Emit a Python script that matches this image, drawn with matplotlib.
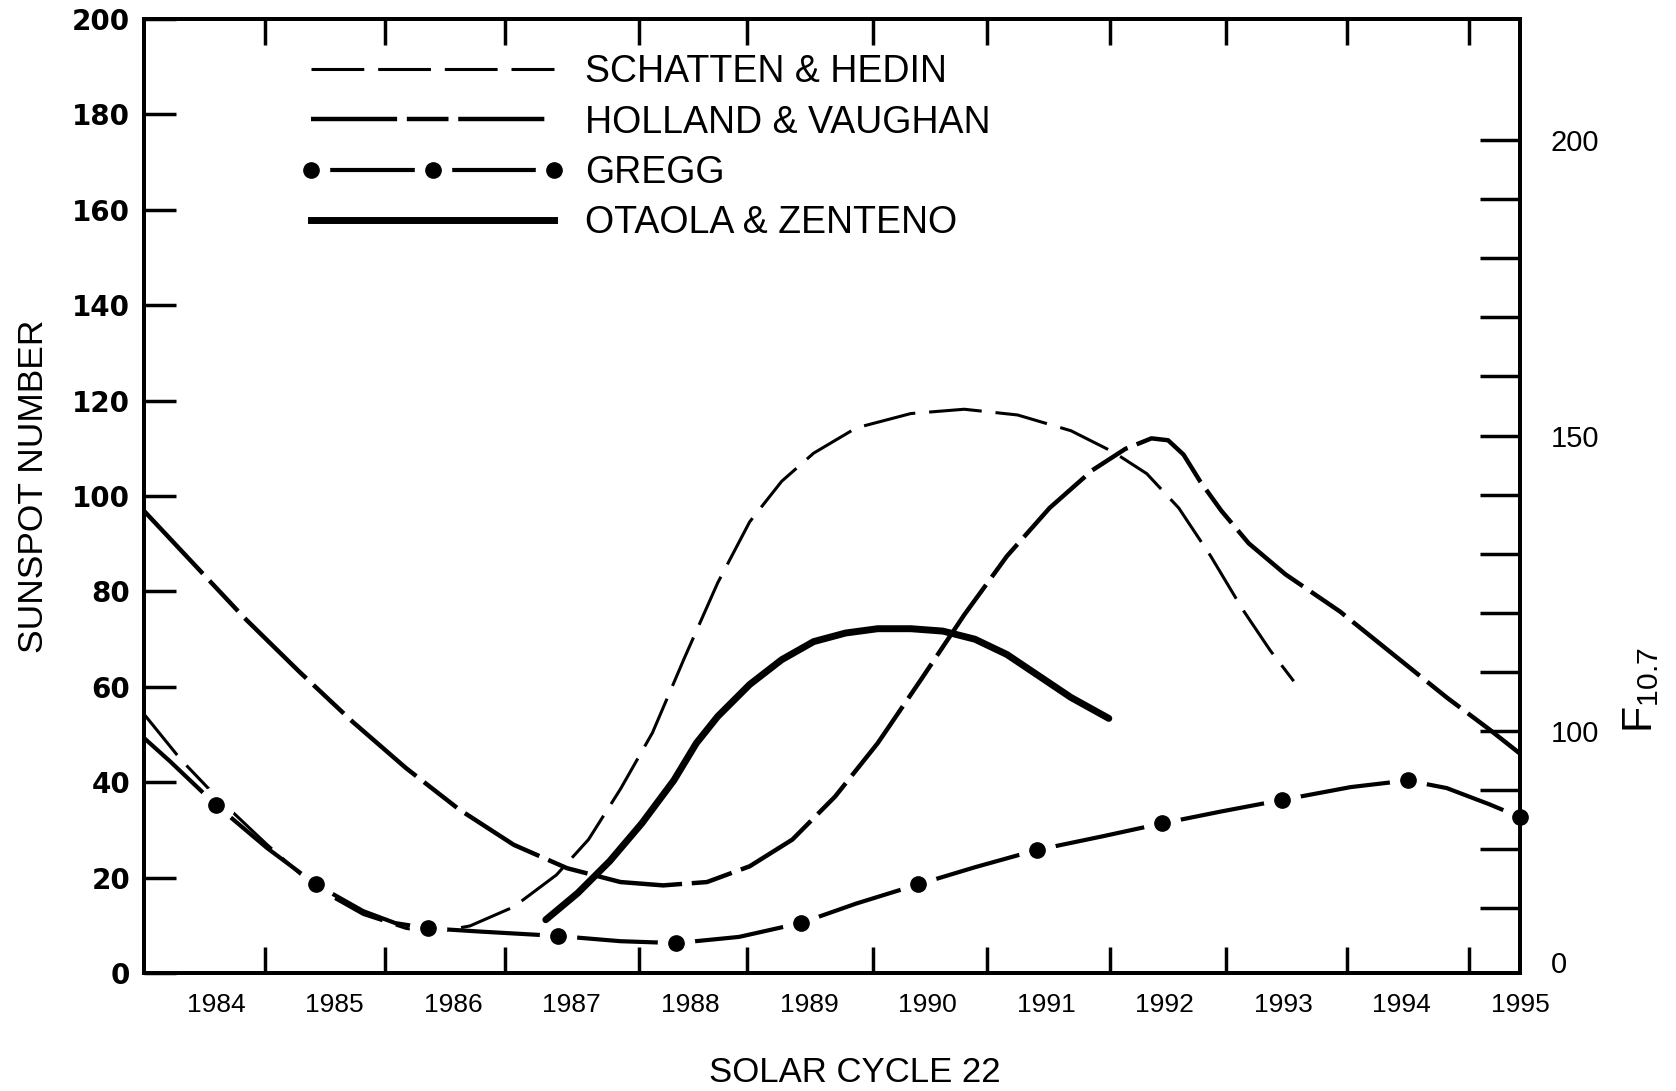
import matplotlib
matplotlib.use("Agg")
from matplotlib import pyplot as plt
from matplotlib.lines import Line2D
from matplotlib.legend_handler import HandlerTuple

plt.rcParams['lines.scale_dashes'] = False
plt.rcParams['font.family'] = ['Liberation Sans', 'DejaVu Sans']
plt.rcParams['mathtext.default'] = 'regular'

# Schatten & Hedin prediction (sunspot number)
sh_year = [1983.39, 1983.70, 1984.00, 1984.43, 1984.84, 1985.24, 1985.60, 1985.83, 1986.14,
           1986.51, 1986.87, 1987.14, 1987.41, 1987.68, 1987.95, 1988.23, 1988.50, 1988.77,
           1989.04, 1989.40, 1989.86, 1990.31, 1990.76, 1991.21, 1991.57, 1991.85, 1992.12,
           1992.39, 1992.66, 1992.89, 1993.09]
sh_ssn = [54.3, 44.8, 37.0, 26.9, 17.9, 12.3, 9.4, 8.5, 9.9,
          13.9, 20.6, 28.0, 38.6, 50.4, 66.1, 81.8, 94.6, 103.1,
          109.0, 114.3, 117.3, 118.2, 117.0, 113.7, 109.2, 104.7, 97.5,
          87.4, 76.2, 67.7, 61.2]

# Holland & Vaughan
hv_year = [1983.39, 1983.79, 1984.24, 1984.70, 1985.15, 1985.60, 1986.05, 1986.51, 1986.96,
           1987.41, 1987.77, 1988.14, 1988.50, 1988.86, 1989.22, 1989.58, 1989.95, 1990.31,
           1990.67, 1991.03, 1991.39, 1991.67, 1991.89, 1992.03, 1992.16, 1992.30, 1992.48,
           1992.71, 1993.02, 1993.48, 1993.93, 1994.38, 1994.74, 1995.00]
hv_ssn = [96.9, 86.3, 74.4, 63.2, 52.7, 43.0, 34.3, 26.9, 22.0,
          19.1, 18.4, 19.1, 22.4, 28.0, 37.0, 48.2, 61.7, 75.1,
          87.4, 97.5, 105.4, 109.9, 112.1, 111.7, 108.7, 103.1, 96.9,
          90.1, 83.6, 75.8, 66.8, 57.8, 51.1, 46.0]

# Gregg (line and the yearly points)
gr_year = [1983.39, 1983.61, 1984.00, 1984.43, 1984.84, 1985.24, 1985.51, 1985.79, 1986.24,
           1986.88, 1987.41, 1987.88, 1988.41, 1988.93, 1989.40, 1989.92, 1990.40, 1990.92,
           1991.48, 1991.98, 1992.48, 1992.99, 1993.57, 1994.05, 1994.38, 1994.74, 1995.00]
gr_ssn = [49.3, 44.4, 35.2, 26.2, 18.6, 13.0, 10.5, 9.4, 8.7,
          7.8, 6.7, 6.3, 7.6, 10.5, 14.6, 18.6, 22.2, 25.8,
          28.7, 31.4, 33.9, 36.3, 39.0, 40.4, 38.8, 35.4, 32.7]
gr_dot_year = [1984.00, 1984.84, 1985.79, 1986.88, 1987.88, 1988.93, 1989.92, 1990.92,
               1991.98, 1992.99, 1994.05, 1995.00]
gr_dot_ssn = [35.2, 18.6, 9.4, 7.8, 6.3, 10.5, 18.6, 25.8, 31.4, 36.3, 40.4, 32.7]

# Otaola & Zenteno
oz_year = [1986.78, 1987.05, 1987.32, 1987.59, 1987.86, 1988.05, 1988.23, 1988.50, 1988.77,
           1989.04, 1989.31, 1989.58, 1989.86, 1990.13, 1990.40, 1990.67, 1990.94, 1991.21,
           1991.53]
oz_ssn = [11.2, 16.8, 23.5, 31.4, 40.4, 48.2, 53.8, 60.5, 65.7,
          69.5, 71.3, 72.2, 72.2, 71.7, 70.0, 66.8, 62.3, 57.8,
          53.4]

labels = ['SCHATTEN & HEDIN', 'HOLLAND & VAUGHAN', 'GREGG', 'OTAOLA & ZENTENO']
year_labels = list(range(1984, 1996))
year_ticks = [1984.41, 1985.42, 1986.44, 1987.57, 1988.48, 1989.54, 1990.50, 1991.54,
              1992.52, 1993.54, 1994.57]
ssn_ticks = list(range(0, 201, 20))
f107_major = [100, 150, 200]
f107_minor = [70, 80, 90, 110, 120, 130, 140, 160, 170, 180, 190]

sh_style = (0, (38, 10))
hv_style = (0, (62, 7, 30, 7))

fig = plt.figure(figsize=(16.76, 10.91), dpi=100)
ax = fig.add_axes([0.0859, 0.108, 0.8211, 0.8746])

ax.plot(sh_year, sh_ssn, color='k', lw=2.2, ls=sh_style, zorder=2)
ax.plot(hv_year, hv_ssn, color='k', lw=3.2, ls=hv_style, zorder=2)
ax.plot(gr_year, gr_ssn, color='k', lw=3.0, zorder=3)
ax.plot(gr_dot_year, gr_dot_ssn, ls='none', marker='o', ms=26, mfc='w', mec='w', zorder=4)
ax.plot(gr_dot_year, gr_dot_ssn, ls='none', marker='o', ms=11, mfc='k', mec='k', zorder=5,
        clip_on=False)
ax.plot(oz_year, oz_ssn, color='k', lw=5, solid_capstyle='round', zorder=6)

ax.set_xlim(1983.39, 1995.0)
ax.set_ylim(0, 200)

ax.set_xticks(year_labels)
ax.set_xticklabels([str(y) for y in year_labels])
ax.set_xticks(year_ticks, minor=True)
ax.tick_params(axis='x', which='major', length=0, pad=14, labelsize=19)
ax.tick_params(axis='x', which='minor', direction='in', length=19, width=2.5,
               top=True, bottom=True)

ax.set_yticks(ssn_ticks)
ax.tick_params(axis='y', which='major', direction='in', length=23, width=2.5, pad=10,
               labelsize=20, right=False)
for lbl in ax.get_yticklabels():
    lbl.set_fontfamily('DejaVu Sans')
    lbl.set_fontweight('bold')

for s in ax.spines.values():
    s.set_linewidth(2.8)

ax2 = ax.twinx()
ax2.set_ylim(59, 220.5)
ax2.set_yticks(f107_major)
ax2.set_yticks(f107_minor, minor=True)
ax2.tick_params(axis='y', which='both', direction='in', length=29, width=2.5)
ax2.tick_params(axis='y', which='major', pad=22, labelsize=21)
ax2.annotate('0', xy=(1, 60.3), xycoords=ax2.get_yaxis_transform(), xytext=(22, 0),
             textcoords='offset points', ha='left', va='center', fontsize=21)
for s in ax2.spines.values():
    s.set_linewidth(2.8)

ax.set_ylabel('SUNSPOT NUMBER', fontsize=25.5, va='center')
ax.yaxis.set_label_coords(-0.0800, 0.5105)
ax.set_xlabel('SOLAR CYCLE 22', fontsize=25, va='center')
ax.xaxis.set_label_coords(0.5167, -0.1038)
ax2.set_ylabel('$F_{10.7}$', fontsize=31, va='center', rotation=90)
ax2.yaxis.set_label_coords(1.088, 0.297)

h_sh = Line2D([], [], color='k', lw=2.2, ls=sh_style)
h_hv = Line2D([], [], color='k', lw=3.2, ls=hv_style)
h_gr = (Line2D([], [], color='k', lw=3.0),
        Line2D([], [], ls='none', marker='o', ms=26, mfc='w', mec='w'),
        Line2D([], [], ls='none', marker='o', ms=11, mfc='k', mec='k'))
h_oz = Line2D([], [], color='k', lw=5)
ax2.legend([h_sh, h_hv, h_gr, h_oz], labels, loc='upper left', bbox_to_anchor=(0.113, 0.963),
           frameon=False, handlelength=7.1, handletextpad=0.52, labelspacing=0.38,
           numpoints=3, fontsize=27, borderpad=0, borderaxespad=0,
           handler_map={tuple: HandlerTuple(ndivide=1)})

fig.savefig('out.png', dpi=100)
plt.close()
